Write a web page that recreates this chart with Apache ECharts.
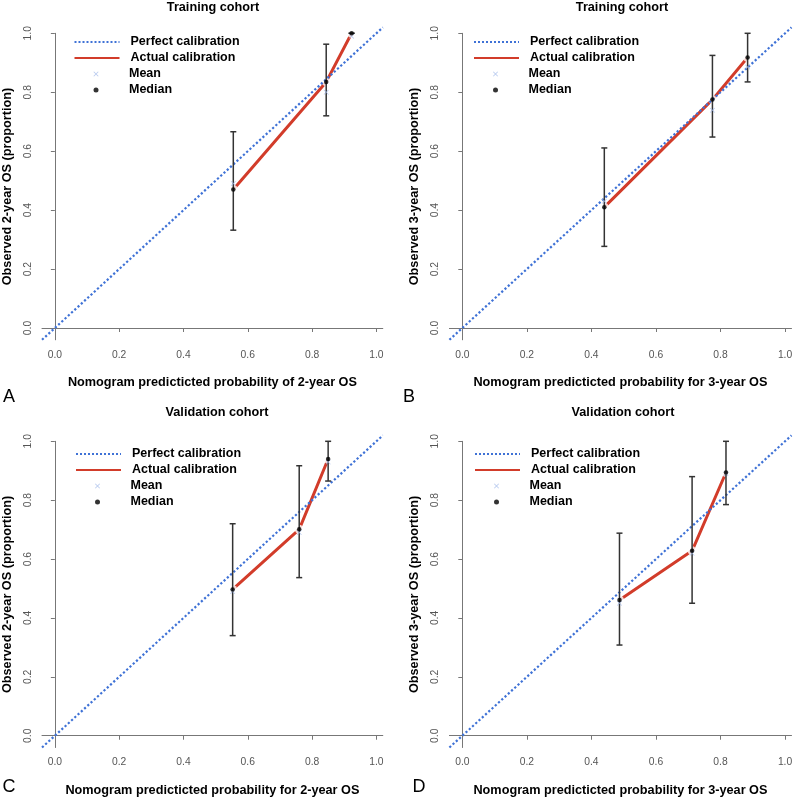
<!DOCTYPE html>
<html>
<head>
<meta charset="utf-8">
<script src="https://cdn.jsdelivr.net/npm/echarts@6/dist/echarts.min.js"></script>
<style>
  html, body { margin: 0; padding: 0; background: #fff; }
  #chart { width: 800px; height: 798px; }
</style>
</head>
<body>
<div id="chart"></div>
<script>
// tick values shared by every axis
const axisTicks = [0, 0.2, 0.4, 0.6, 0.8, 1.0];
// ends of the 45 degree reference line
const perfectEnds = [-0.04, 1.02];

const panelTitles = ["Training cohort", "Training cohort", "Validation cohort", "Validation cohort"];
const panelLetters = ["A", "B", "C", "D"];
const xNames = [
  "Nomogram predicticted probability of 2-year OS",
  "Nomogram predicticted probability for 3-year OS",
  "Nomogram predicticted probability for 2-year OS",
  "Nomogram predicticted probability for 3-year OS"
];
const yNames = [
  "Observed 2-year OS (proportion)",
  "Observed 3-year OS (proportion)",
  "Observed 2-year OS (proportion)",
  "Observed 3-year OS (proportion)"
];

// A: training cohort, 2-year
const predA = [0.555, 0.844, 0.923];
const obsA  = [0.470, 0.835, 1.000];
const loA   = [0.332, 0.720, 1.000];
const hiA   = [0.666, 0.963, 1.000];
const meanA = [0.490, 0.800, 0.990];

// B: training cohort, 3-year
const predB = [0.440, 0.775, 0.884];
const obsB  = [0.410, 0.775, 0.918];
const loB   = [0.277, 0.648, 0.835];
const hiB   = [0.611, 0.925, 1.000];
const meanB = [0.430, 0.739, 0.886];

// C: validation cohort, 2-year
const predC = [0.553, 0.760, 0.850];
const obsC  = [0.497, 0.701, 0.940];
const loC   = [0.340, 0.537, 0.865];
const hiC   = [0.720, 0.917, 1.000];
const meanC = [0.490, 0.690, 0.930];

// D: validation cohort, 3-year
const predD = [0.487, 0.712, 0.817];
const obsD  = [0.461, 0.628, 0.894];
const loD   = [0.308, 0.450, 0.785];
const hiD   = [0.688, 0.880, 1.000];
const meanD = [0.450, 0.620, 0.890];

const panels = [
  { pred: predA, obs: obsA, lo: loA, hi: hiA, mean: meanA },
  { pred: predB, obs: obsB, lo: loB, hi: hiB, mean: meanB },
  { pred: predC, obs: obsC, lo: loC, hi: hiC, mean: meanC },
  { pred: predD, obs: obsD, lo: loD, hi: hiD, mean: meanD }
];

// pixel layout of the four plot boxes, legends, titles
const boxes = [
  { left: 40.4, top: 33.3, width: 342.4, height: 306.5, legX: 73.5, legY: 35, titleX: 213, titleY: 7, letX: 9, letY: 397 },
  { left: 449.4, top: 33.3, width: 342.1, height: 306.5, legX: 473, legY: 35, titleX: 622, titleY: 7, letX: 409, letY: 397 },
  { left: 40.4, top: 441.3, width: 342.4, height: 306.2, legX: 75, legY: 447, titleX: 217, titleY: 412, letX: 9, letY: 787 },
  { left: 449.4, top: 441.3, width: 342.1, height: 306.2, legX: 474, legY: 447, titleX: 623, titleY: 412, letX: 419, letY: 787 }
];

const FONT = "Liberation Sans, Arial, Helvetica, sans-serif";
const BLUE = "#3f72d6";
const RED = "#d23c2a";
const MEAN_COLOR = "#9fb6e8";
const BAR_COLOR = "#333333";
const X_PATH = "path://M0,1L1,0L5,4L9,0L10,1L6,5L10,9L9,10L5,6L1,10L0,9L4,5Z";

const chart = echarts.init(document.getElementById("chart"));

const grids = [], xAxes = [], yAxes = [], series = [], legends = [], texts = [];

panels.forEach((p, i) => {
  const b = boxes[i];
  const pts = (ys) => p.pred.map((x, k) => [x, ys[k]]);

  grids.push({ left: b.left, top: b.top, width: b.width, height: b.height, containLabel: false });

  xAxes.push({
    type: "value", gridIndex: i, min: -0.04, max: 1.02,
    name: xNames[i], nameLocation: "middle", nameGap: 36,
    nameTextStyle: { fontFamily: FONT, fontSize: 12.7, fontWeight: "bold", color: "#000" },
    axisLine: { lineStyle: { color: "#777", width: 1 } },
    axisTick: { customValues: axisTicks, length: 4, lineStyle: { color: "#777" } },
    axisLabel: {
      customValues: axisTicks, formatter: (v) => v.toFixed(1),
      fontFamily: FONT, fontSize: 10.3, color: "#555", margin: 10
    },
    splitLine: { show: false }
  });

  yAxes.push({
    type: "value", gridIndex: i, min: -0.04, max: 1.0,
    name: yNames[i], nameLocation: "middle", nameGap: 28,
    nameTextStyle: { fontFamily: FONT, fontSize: 12.7, fontWeight: "bold", color: "#000" },
    axisLine: { show: true, lineStyle: { color: "#777", width: 1 } },
    axisTick: { show: true, customValues: axisTicks, length: 4, lineStyle: { color: "#777" } },
    axisLabel: {
      customValues: axisTicks, formatter: (v) => v.toFixed(1), rotate: 90,
      fontFamily: FONT, fontSize: 10.3, color: "#555", margin: 9
    },
    splitLine: { show: false }
  });

  series.push(
    {
      name: "Actual calibration", type: "line", xAxisIndex: i, yAxisIndex: i,
      data: pts(p.obs), symbol: "none",
      lineStyle: { color: RED, width: 3 }, itemStyle: { color: RED }, z: 2
    },
    {
      // white patches so the line stops short of each point
      type: "scatter", xAxisIndex: i, yAxisIndex: i, data: pts(p.obs),
      symbolSize: 9, itemStyle: { color: "#fff", borderWidth: 0 }, silent: true, z: 3
    },
    {
      name: "Perfect calibration", type: "line", xAxisIndex: i, yAxisIndex: i,
      data: perfectEnds.map((v) => [v, v]), symbol: "none", clip: false,
      lineStyle: { color: BLUE, width: 2.2, type: "dotted" }, itemStyle: { color: BLUE }, z: 4
    },
    {
      type: "custom", xAxisIndex: i, yAxisIndex: i,
      data: p.pred.map((x, k) => [x, p.lo[k], p.hi[k]]),
      encode: { x: 0, y: [1, 2] }, silent: true, z: 5,
      renderItem: (params, api) => {
        const top = api.coord([api.value(0), api.value(2)]);
        const bot = api.coord([api.value(0), api.value(1)]);
        const w = 3;
        const st = { stroke: BAR_COLOR, lineWidth: 1.5 };
        return {
          type: "group",
          children: [
            { type: "line", shape: { x1: top[0], y1: top[1], x2: bot[0], y2: bot[1] }, style: st },
            { type: "line", shape: { x1: top[0] - w, y1: top[1], x2: top[0] + w, y2: top[1] }, style: st },
            { type: "line", shape: { x1: bot[0] - w, y1: bot[1], x2: bot[0] + w, y2: bot[1] }, style: st }
          ]
        };
      }
    },
    {
      name: "Mean", type: "scatter", xAxisIndex: i, yAxisIndex: i,
      data: pts(p.mean), symbol: X_PATH, symbolSize: 5,
      itemStyle: { color: MEAN_COLOR }, z: 6
    },
    {
      name: "Median", type: "scatter", xAxisIndex: i, yAxisIndex: i,
      data: pts(p.obs), symbol: "circle", symbolSize: 4.5,
      itemStyle: { color: "#000" }, z: 7
    }
  );

  const legText = (pad) => ({
    fontFamily: FONT, fontSize: 12.5, fontWeight: "bold", color: "#000",
    lineHeight: 14, padding: [0, 0, 0, pad]
  });
  legends.push(
    {
      orient: "vertical", left: b.legX, top: b.legY, padding: 0,
      itemWidth: 45, itemHeight: 14, itemGap: 2,
      data: [
        { name: "Perfect calibration", itemStyle: { opacity: 0 } },
        { name: "Actual calibration", itemStyle: { opacity: 0 } }
      ],
      textStyle: legText(6)
    },
    {
      orient: "vertical", left: b.legX + 20, top: b.legY + 32, padding: 0,
      itemWidth: 45, itemHeight: 5, itemGap: 2,
      data: [{ name: "Mean", icon: X_PATH }, { name: "Median", icon: "circle" }],
      textStyle: legText(5.5)
    }
  );

  texts.push(
    {
      type: "text", x: b.titleX, y: b.titleY,
      style: { text: panelTitles[i], font: "bold 12.7px " + FONT, fill: "#000", align: "center", verticalAlign: "middle" }
    },
    {
      type: "text", x: b.letX, y: b.letY,
      style: { text: panelLetters[i], font: "18px " + FONT, fill: "#000", align: "center", verticalAlign: "middle" }
    }
  );
});

chart.setOption({
  animation: false,
  backgroundColor: "#fff",
  grid: grids,
  xAxis: xAxes,
  yAxis: yAxes,
  legend: legends,
  graphic: texts,
  series: series
});
</script>
</body>
</html>
